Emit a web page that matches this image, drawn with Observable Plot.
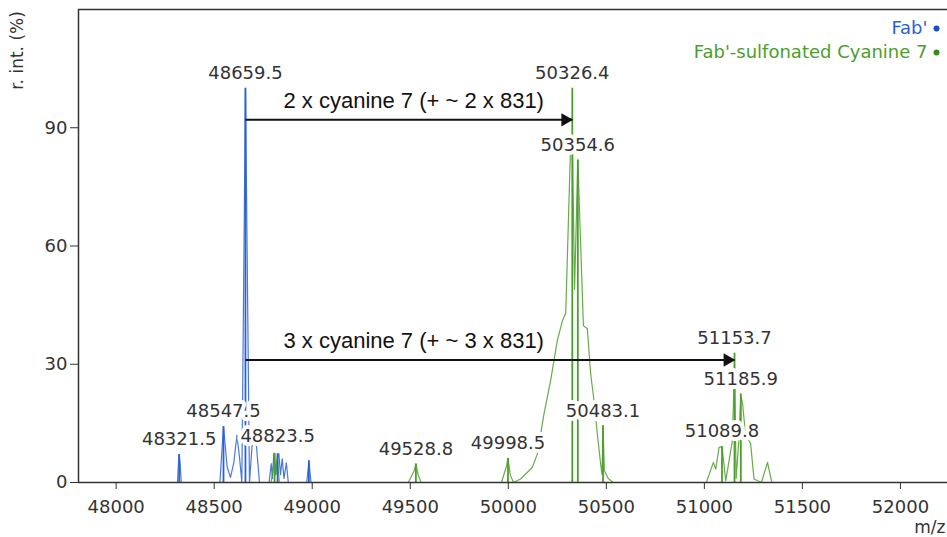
<!DOCTYPE html>
<html><head><meta charset="utf-8">
<script src="https://cdn.jsdelivr.net/npm/d3@7"></script>
<script src="https://cdn.jsdelivr.net/npm/@observablehq/plot@0.6"></script>
<style>body{margin:0;background:#fff;} svg{display:block}</style>
</head><body><div id="chart"></div>
<script>
const seriesNames = ["Fab'", "Fab'-sulfonated Cyanine 7"];
const seriesColors = ["#2a62d4", "#4c9e2c"];
const legendDotColors = ["#1a4fc0", "#3a8a20"];
const xDomain = [47808, 52240];
const yDomain = [0, 120];
const xTicks = [48000, 48500, 49000, 49500, 50000, 50500, 51000, 51500, 52000];
const yTicks = [0, 30, 60, 90];
const xLabel = "m/z";
const yLabel = "r. int. (%)";

// Fab' profile trace
const fabMz  = [48290, 48313, 48318, 48321.5, 48326, 48332, 48520, 48529, 48547.5, 48566, 48583, 48600, 48616, 48630, 48641, 48659.5, 48680, 48700, 48716, 48731, 48780, 48791, 48797, 48804, 48812, 48822, 48830, 48838, 48847, 48856, 48868, 48878, 48972, 48983, 48994];
const fabInt = [0, 0, 5, 7.1, 5, 0, 0, 0, 14.2, 4, 1.3, 5, 12, 6, 0, 100, 0, 14, 9, 0, 0, 4.8, 1, 7.3, 2, 6, 7.3, 2, 6, 1, 5, 0, 0, 5.5, 0];

// Fab'-sulfonated Cyanine 7 profile trace
const cy7Mz  = [48790, 48800, 48808, 48815, 48822, 48832, 49490, 49520, 49528.8, 49540, 49555, 49965, 49990, 49998.5, 50010, 50026, 50063, 50122, 50148, 50182, 50216, 50250, 50276, 50293, 50318, 50326.4, 50338, 50354.6, 50383, 50403, 50420, 50437, 50454, 50471, 50478, 50483.1, 50490, 50510, 50535, 51010, 51046, 51058, 51075, 51089.8, 51109, 51143, 51153.7, 51162, 51175, 51185.9, 51195, 51210, 51228, 51236, 51253, 51291, 51322, 51344];
const cy7Int = [0, 3, 7.4, 2, 6.8, 0, 0, 3, 4.7, 2, 0, 0, 4, 6.1, 2, 0, 0.9, 3.8, 7.2, 17.4, 25.9, 36, 41, 43, 86, 88, 49, 81.8, 39.8, 39, 27.6, 20.8, 12.3, 4.7, 2, 14.4, 3, 1, 0, 0, 5.1, 3.4, 8.9, 9.1, 0.4, 10.6, 30, 1, 10, 22, 20, 12, 10.6, 9.8, 0.9, 0, 5.1, 0];

// centroid sticks
const fabStickMz  = [48321.5, 48547.5, 48659.5, 48823.5, 48983];
const fabStickInt = [7.1, 14.2, 100, 7.3, 5.5];
const cy7StickMz  = [48808, 49528.8, 49998.5, 50326.4, 50354.6, 50483.1, 51089.8, 51153.7, 51185.9];
const cy7StickInt = [7.4, 4.7, 6.1, 100, 81.8, 14.4, 9.1, 32.8, 22.5];

// peak labels
const labelMz  = [48321.5, 48547.5, 48659.5, 48823.5, 49528.8, 49998.5, 50326.4, 50354.6, 50483.1, 51089.8, 51153.7, 51185.9];
const labelInt = [7.1, 14.2, 100, 8, 4.7, 6.1, 100, 81.8, 14.4, 9.1, 32.8, 22.5];

// mass shift arrows
const arrowFrom = [48659.5, 48659.5];
const arrowTo   = [50326.4, 51153.7];
const arrowInt  = [92, 31.1];
const arrowText = ["2 x cyanine 7 (+ ~ 2 x 831)", "3 x cyanine 7 (+ ~ 3 x 831)"];

const profile = [
  ...fabMz.map((m, i) => ({mz: m, int: fabInt[i], series: seriesNames[0]})),
  ...cy7Mz.map((m, i) => ({mz: m, int: cy7Int[i], series: seriesNames[1]}))
];
const sticks = [
  ...fabStickMz.map((m, i) => ({mz: m, int: fabStickInt[i], series: seriesNames[0]})),
  ...cy7StickMz.map((m, i) => ({mz: m, int: cy7StickInt[i], series: seriesNames[1]}))
];
const labels = labelMz.map((m, i) => ({mz: m, int: labelInt[i], text: m.toFixed(1)}));
const arrows = arrowFrom.map((f, i) => ({from: f, to: arrowTo[i], int: arrowInt[i], text: arrowText[i]}));

const legendMarks = seriesNames.flatMap((name, i) => [
  Plot.text([name], {frameAnchor: "top-right", text: d => d, textAnchor: "end", lineAnchor: "middle", dx: -20, dy: 19 + 24 * i, fill: seriesColors[i], fontSize: 18}),
  Plot.dot([name], {frameAnchor: "top-right", dx: -11, dy: 19 + 24 * i, r: 3, fill: legendDotColors[i], stroke: null})
]);

const chart = Plot.plot({
  width: 947,
  height: 537,
  marginLeft: 78,
  marginRight: 0,
  marginTop: 9,
  marginBottom: 55,
  style: {fontFamily: "DejaVu Sans", fontSize: "18px", color: "#333", background: "#fff"},
  x: {domain: xDomain},
  y: {domain: yDomain},
  color: {domain: seriesNames, range: seriesColors},
  marks: [
    Plot.line(profile, {x: "mz", y: "int", z: "series", stroke: "series", strokeWidth: 1.2, strokeOpacity: 0.85}),
    Plot.ruleX(sticks, {x: "mz", y1: 0, y2: "int", stroke: "series", strokeWidth: 1.8}),
    Plot.ruleY(yDomain.slice(0, 1), {stroke: "#333", strokeWidth: 1.5}),
    Plot.ruleY(yDomain.slice(1), {stroke: "#333", strokeWidth: 1.5}),
    Plot.ruleX(xDomain.slice(0, 1), {stroke: "#333", strokeWidth: 1.5}),
    Plot.axisX(xTicks, {tickSize: 7, tickPadding: 11, label: null, fontSize: 18, tickFormat: d => String(d)}),
    Plot.axisY(yTicks, {tickSize: 8, tickPadding: 3, label: null, fontSize: 18, tickFormat: d => String(d)}),
    Plot.link(arrows, {x1: "from", x2: "to", y1: "int", y2: "int", stroke: "#111", strokeWidth: 2}),
    Plot.dot(arrows, {x: "to", y: "int", symbol: "triangle", rotate: 90, r: 5, fill: "#111", stroke: null, dx: -7}),
    Plot.text(arrows, {x: "from", y: "int", text: "text", textAnchor: "start", dx: 38, dy: -19, fontFamily: "Liberation Sans", fontSize: 22, fill: "#111"}),
    Plot.text(labels, {x: "mz", y: "int", text: "text", dy: -15, fontSize: 18, fill: "#333", stroke: "white", strokeWidth: 8, strokeLinejoin: "round"}),
    ...legendMarks,
    Plot.text([yLabel], {frameAnchor: "top-left", text: d => d, rotate: -90, textAnchor: "middle", lineAnchor: "middle", dx: -61, dy: 41, fontSize: 17, fill: "#333"}),
    Plot.text([xLabel], {frameAnchor: "bottom-right", text: d => d, textAnchor: "end", lineAnchor: "middle", dx: -2, dy: 45, fontSize: 17, fill: "#333"})
  ]
});
document.getElementById("chart").append(chart);
</script>
</body></html>
